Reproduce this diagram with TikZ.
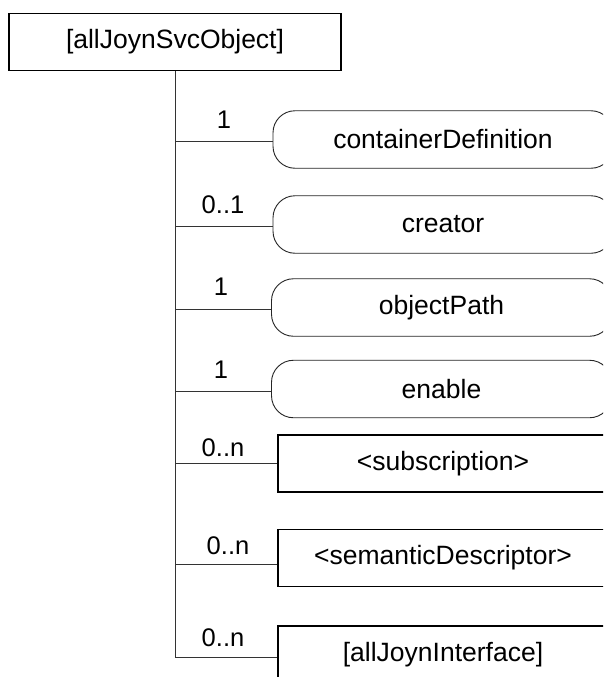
\documentclass[tikz,border=0pt]{standalone}
\usepackage{fontspec}
\setmainfont{Liberation Sans}
\usetikzlibrary{shapes.misc}
\begin{document}
\begin{tikzpicture}[x=1pt,y=-1pt,
  every node/.style={font=\fontsize{26.5}{30}\selectfont, inner sep=0pt},
  topbox/.style={draw=black, line width=1.6pt, minimum width=332pt, minimum height=57pt},
  roundbox/.style={draw=black!85, line width=0.9pt, rounded corners=22pt, minimum width=340pt, minimum height=57.5pt},
  rectbox/.style={draw=black, line width=1.4pt, minimum width=330pt, minimum height=57pt},
  conn/.style={draw=black!80, line width=0.9pt},
  mult/.style={font=\fontsize{25.5}{28}\selectfont}
]
\useasboundingbox (0,0) rectangle (603,677);
\clip (0,0) rectangle (603,677);
\fill[white] (0,0) rectangle (603,677);

\node[topbox] (top) at (175,42) {[allJoynSvcObject]};

\node[roundbox] (b1) at (443,139.5) {containerDefinition};
\node[roundbox] (b2) at (443,224.5) {creator};
\node[roundbox] (b3) at (441.5,307.5) {objectPath};
\node[roundbox] (b4) at (441.5,389) {enable};
\node[rectbox] (b5) at (443,463.5) {\raisebox{0pt}{<subscription>}};
\node[rectbox] (b6) at (443,558) {<semanticDescriptor>};
\node[rectbox] (b7) at (443,654.5) {[allJoynInterface]};

\coordinate (j1) at (175,141.7);
\coordinate (j2) at (175,226);
\coordinate (j3) at (175,309);
\coordinate (j4) at (175,391);
\coordinate (j5) at (175,463);
\coordinate (j6) at (175,564);
\coordinate (j7) at (175,657);

\draw[conn] (top.south) -- (j7);
\draw[conn] (j1) -- (j1 -| b1.west);
\draw[conn] (j2) -- (j2 -| b2.west);
\draw[conn] (j3) -- (j3 -| b3.west);
\draw[conn] (j4) -- (j4 -| b4.west);
\draw[conn] (j5) -- (j5 -| b5.west);
\draw[conn] (j6) -- (j6 -| b6.west);
\draw[conn] (j7) -- (j7 -| b7.west);

\node[mult] (m1) at (224,120) {1};
\node[mult] (m2) at (223,205) {0..1};
\node[mult] (m3) at (221,287) {1};
\node[mult] (m4) at (221,370) {1};
\node[mult] (m5) at (223,448) {0..n};
\node[mult] (m6) at (228,546) {0..n};
\node[mult] (m7) at (223,638) {0..n};
\end{tikzpicture}
\end{document}
